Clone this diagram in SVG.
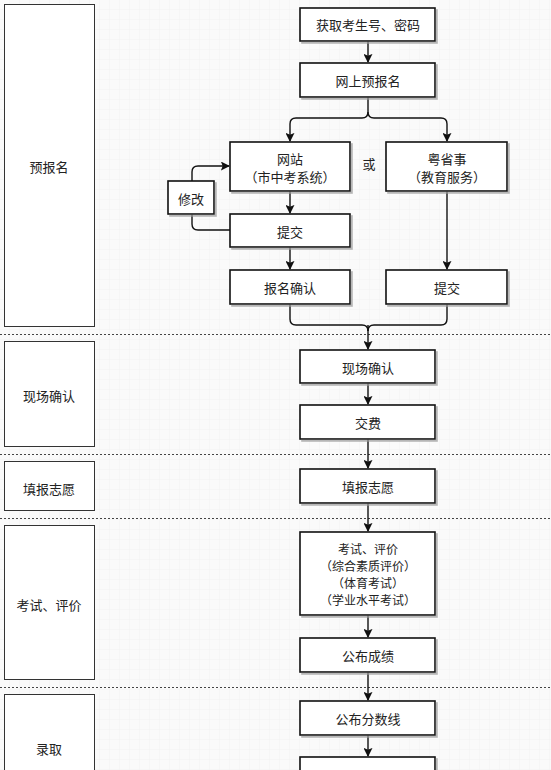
<svg xmlns="http://www.w3.org/2000/svg" width="551" height="770" viewBox="0 0 551 770">
<defs>
<pattern id="grid" width="10" height="10" patternUnits="userSpaceOnUse">
<rect width="10" height="10" fill="#fafafa"/>
<path d="M10 0V10M0 10H10" stroke="#f2f2f2" stroke-width="1"/>
</pattern>
<marker id="arr" viewBox="0 0 10 10" refX="9" refY="5" markerWidth="9" markerHeight="9" markerUnits="userSpaceOnUse" orient="auto">
<path d="M0 0L10 5L0 10L2 5Z" fill="#111"/>
</marker>
<filter id="sh" x="-10%" y="-10%" width="130%" height="140%">
<feDropShadow dx="2" dy="2" stdDeviation="0.6" flood-color="#999" flood-opacity="0.7"/>
</filter>
</defs>
<style>
.lane{fill:#fff;stroke:#333;stroke-width:1}
.box{fill:#fff;stroke:#111;stroke-width:1.6;filter:url(#sh)}
.t{font-family:"Noto Sans CJK SC","Noto Sans",sans-serif;font-size:13px;fill:#222;text-anchor:middle;dominant-baseline:central}
.s{font-size:12px}
.dash{stroke:#444;stroke-width:1;stroke-dasharray:2 2}
.c{fill:none;stroke:#111;stroke-width:1.4}
.ca{fill:none;stroke:#111;stroke-width:1.4;marker-end:url(#arr)}
</style>
<rect width="551" height="770" fill="url(#grid)"/>

<g id="lanes">
<g id="lane1"><rect class="lane" x="4.5" y="4.5" width="90" height="322"/><text class="t" x="49" y="166">预报名</text></g>
<g id="lane2"><rect class="lane" x="4.5" y="341.5" width="90" height="105"/><text class="t" x="49" y="395">现场确认</text></g>
<g id="lane3"><rect class="lane" x="4.5" y="461.5" width="90" height="49"/><text class="t" x="49" y="488">填报志愿</text></g>
<g id="lane4"><rect class="lane" x="4.5" y="525.5" width="90" height="154"/><text class="t" x="49" y="604">考试、评价</text></g>
<g id="lane5"><rect class="lane" x="4.5" y="694.5" width="90" height="80"/><text class="t" x="49" y="748">录取</text></g>
</g>

<g id="separators">
<line class="dash" x1="0" y1="334.5" x2="551" y2="334.5"/>
<line class="dash" x1="0" y1="454.5" x2="551" y2="454.5"/>
<line class="dash" x1="0" y1="518.5" x2="551" y2="518.5"/>
<line class="dash" x1="0" y1="687.5" x2="551" y2="687.5"/>
</g>

<g id="connectors">
<path class="ca" d="M368 41V62"/>
<path class="c" d="M368 97V112Q368 118 362 118H296Q290 118 290 124V141" marker-end="url(#arr)"/>
<path class="c" d="M368 112Q368 118 374 118H441Q447 118 447 124V141" marker-end="url(#arr)"/>
<path class="ca" d="M290 191V213"/>
<path class="ca" d="M192 181V172Q192 166 198 166H229"/>
<path class="c" d="M230 230H198Q192 230 192 224V214"/>
<path class="ca" d="M290 247V269"/>
<path class="ca" d="M447 191V269"/>
<path class="c" d="M290 304V319Q290 325 296 325H362Q368 325 368 331"/>
<path class="c" d="M447 304V319Q447 325 441 325H374Q368 325 368 331"/>
<path class="ca" d="M368 325V349"/>
<path class="ca" d="M368 383V404"/>
<path class="ca" d="M368 439V468"/>
<path class="ca" d="M368 503V531"/>
<path class="ca" d="M368 615V637"/>
<path class="ca" d="M368 672V700"/>
<path class="ca" d="M368 735V756"/>
</g>

<g id="n1"><rect class="box" x="300" y="8" width="135" height="33"/><text class="t" x="368" y="24.5">获取考生号、密码</text></g>
<g id="n2"><rect class="box" x="300" y="63" width="135" height="34"/><text class="t" x="368" y="80">网上预报名</text></g>
<g id="n3"><rect class="box" x="230" y="142" width="120" height="49"/><text class="t" x="290" y="158">网站</text><text class="t" x="290" y="176">（市中考系统）</text></g>
<g id="or"><text class="t" x="369" y="163">或</text></g>
<g id="n4"><rect class="box" x="386" y="142" width="121" height="49"/><text class="t" x="447" y="158">粤省事</text><text class="t" x="447" y="176">（教育服务）</text></g>
<g id="n5"><rect class="box" x="168" y="181" width="46" height="33"/><text class="t" x="191" y="198">修改</text></g>
<g id="n6"><rect class="box" x="230" y="214" width="120" height="33"/><text class="t" x="290" y="231">提交</text></g>
<g id="n7"><rect class="box" x="230" y="270" width="120" height="34"/><text class="t" x="290" y="287">报名确认</text></g>
<g id="n8"><rect class="box" x="386" y="270" width="121" height="34"/><text class="t" x="447" y="287">提交</text></g>
<g id="n9"><rect class="box" x="300" y="350" width="135" height="33"/><text class="t" x="368" y="367">现场确认</text></g>
<g id="n10"><rect class="box" x="300" y="405" width="135" height="34"/><text class="t" x="368" y="422">交费</text></g>
<g id="n11"><rect class="box" x="300" y="469" width="135" height="34"/><text class="t" x="368" y="486">填报志愿</text></g>
<g id="n12"><rect class="box" x="300" y="532" width="135" height="83"/><text class="t s" x="368" y="548">考试、评价</text><text class="t s" x="368" y="565">（综合素质评价）</text><text class="t s" x="368" y="582">（体育考试）</text><text class="t s" x="368" y="599">（学业水平考试）</text></g>
<g id="n13"><rect class="box" x="300" y="638" width="135" height="34"/><text class="t" x="368" y="655">公布成绩</text></g>
<g id="n14"><rect class="box" x="300" y="701" width="135" height="34"/><text class="t" x="368" y="718">公布分数线</text></g>
<g id="n15"><rect class="box" x="300" y="757" width="135" height="30"/></g>
</svg>
